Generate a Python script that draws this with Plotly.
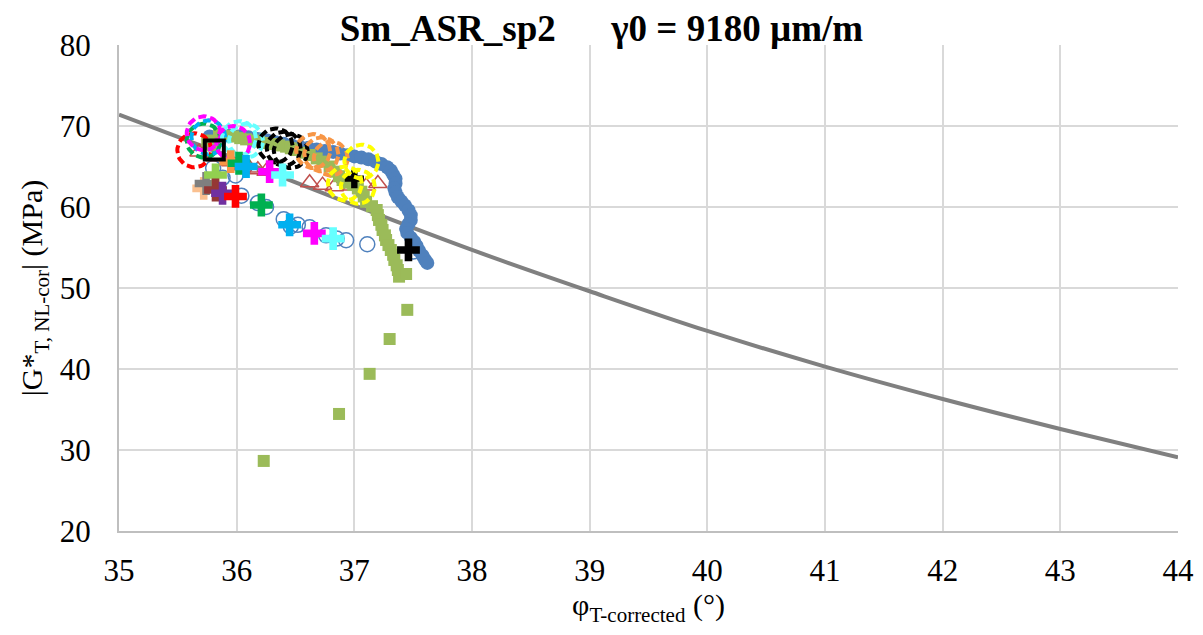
import numpy as np
import plotly.graph_objects as go

# ---------------- data ----------------
# reference (master) curve
line_x = [35, 36, 37, 38, 39, 40, 41, 42, 43, 44]
line_y = [71.4, 65.9, 60.2, 54.7, 49.6, 44.7, 40.3, 36.3, 32.6, 29.1]

# filled blue circles
blue_x = [35.77, 35.85, 35.94, 36.02, 36.10, 36.18, 36.26, 36.33, 36.40, 36.47, 36.54,
          36.61, 36.68, 36.75, 36.82, 36.88, 36.94, 37.00, 37.06, 37.12, 37.18, 37.23,
          37.28, 37.31, 37.33, 37.35, 37.35, 37.34, 37.35, 37.37, 37.40, 37.43, 37.46,
          37.48, 37.48, 37.46, 37.44, 37.45, 37.48, 37.51, 37.53, 37.55, 37.58, 37.60, 37.62]
blue_y = [68.7, 68.9, 68.8, 68.7, 68.6, 68.4, 68.2, 68.0, 67.8, 67.6, 67.4,
          67.3, 67.1, 66.9, 66.8, 66.6, 66.4, 66.25, 66.1, 65.9, 65.6, 65.3,
          64.9, 64.5, 64.0, 63.5, 62.9, 62.3, 61.8, 61.2, 60.7, 60.2, 59.6,
          59.0, 58.4, 57.9, 57.3, 56.8, 56.2, 55.7, 55.2, 54.6, 54.0, 53.5, 53.1]

# green squares
green_x = [35.75, 35.80, 35.85, 35.91, 35.97, 36.03, 36.08, 36.14, 36.19, 36.25, 36.31,
           36.36, 36.42, 36.46, 36.50, 36.56, 36.62, 36.68, 36.73, 36.79, 36.84, 36.87,
           36.90, 36.95, 36.99, 37.03, 37.06, 37.08, 37.10, 37.15, 37.19, 37.20, 37.21,
           37.23, 37.24, 37.26, 37.27, 37.29, 37.31, 37.33, 37.34, 37.36, 37.37, 37.38,
           37.44, 37.45, 37.30, 37.13, 36.87, 36.23]
green_y = [68.2, 67.6, 68.9, 68.8, 68.7, 68.5, 68.35, 68.2, 68.07, 67.9, 67.78,
           67.6, 67.45, 67.25, 67.04, 66.7, 66.42, 66.0, 65.60, 65.0, 64.36, 63.8,
           63.33, 63.0, 62.71, 62.3, 61.89, 61.3, 60.65, 60.1, 59.63, 59.0, 58.40,
           57.8, 57.16, 56.5, 55.93, 55.3, 54.69, 54.1, 53.46, 52.8, 52.22, 51.40,
           51.73, 47.3, 43.7, 39.4, 34.45, 28.65]

# blue open circles
ocirc_x = [35.80, 35.88, 35.99, 36.04, 36.18, 36.25, 36.40, 36.46, 36.52, 36.62, 36.76,
           36.85, 36.93, 37.11, 37.50]
ocirc_y = [64.8, 63.6, 63.9, 61.4, 60.5, 60.0, 58.5, 57.6, 57.8, 57.5, 56.5,
           56.1, 55.9, 55.4, 54.5]

# red open triangles
tri_x = [35.68, 35.82, 35.95, 36.05, 36.11, 36.18, 36.25, 36.62, 36.73, 36.83, 36.98, 37.10, 37.20]
tri_y = [66.8, 66.2, 65.6, 65.1, 64.8, 64.6, 64.4, 63.0, 62.7, 62.5, 62.6, 62.6, 62.9]

# black cross partly hidden under the yellow circles
bx_x = [37.00]
bx_y = [63.5]

# dashed circle series: colour, x list, y list
dash_colors = ["#FF0000", "#00B050", "#00B0F0", "#FF00FF", "#66FFFF", "#FF00FF",
               "#000000", "#F79646", "#FFFF00"]
dash_x = [[35.64], [35.72], [35.76], [35.72], [36.02, 36.08], [35.97],
          [36.33, 36.40, 36.46], [36.65, 36.72, 36.80], [37.06, 36.92, 37.03]]
dash_y = [[67.0], [68.2], [68.6], [69.1], [68.5, 68.2], [67.9],
          [67.6, 67.2, 66.9], [66.9, 66.5, 66.0], [65.6, 62.9, 62.5]]

# crosses
cross_colors = ["#FAC090", "#7F7F7F", "#92D050", "#953735", "#7030A0", "#FF0000",
                "#00B050", "#F79646", "#00B050", "#00B0F0", "#FF00FF", "#66FFFF",
                "#00B0F0", "#FF00FF", "#66FFFF", "#000000"]
cross_x = [35.72, 35.74, 35.82, 35.82, 35.88, 35.99, 36.21, 35.95, 36.02, 36.08, 36.28,
           36.39, 36.45, 36.66, 36.82, 37.46]
cross_y = [62.3, 62.9, 63.95, 62.1, 61.7, 61.3, 60.25, 65.6, 65.4, 65.0, 64.36,
           63.95, 57.8, 56.75, 56.1, 54.7]

# open black square
sq_x = [35.81]
sq_y = [67.05]

# ---------------- figure ----------------
# page body has an 8px margin; size the figure so the plot area lands where the reference has it
W, H = 1187, 619
ML, MR, MT, MB = 111, 17, 37, 96
XR = [35, 44]
YR = [20, 80]
px_x = (W - ML - MR) / (XR[1] - XR[0])
px_y = (H - MT - MB) / (YR[1] - YR[0])

fig = go.Figure()

fig.add_trace(go.Scatter(x=line_x, y=line_y, mode="lines",
                         line=dict(color="#808080", width=4, shape="spline"),
                         hoverinfo="skip", showlegend=False))

fig.add_trace(go.Scatter(x=ocirc_x, y=ocirc_y, mode="markers",
                         marker=dict(symbol="circle-open", size=15,
                                     color="#4F81BD", line=dict(width=1.5, color="#4F81BD")),
                         showlegend=False))

fig.add_trace(go.Scatter(x=tri_x, y=tri_y, mode="markers",
                         marker=dict(symbol="triangle-up-open", size=16,
                                     color="#C0504D", line=dict(width=1.5, color="#C0504D")),
                         showlegend=False))

fig.add_trace(go.Scatter(x=blue_x, y=blue_y, mode="markers",
                         marker=dict(symbol="circle", size=14, color="#4F81BD"),
                         showlegend=False))

fig.add_trace(go.Scatter(x=green_x, y=green_y, mode="markers",
                         marker=dict(symbol="square", size=12, color="#9BBB59"),
                         showlegend=False))

fig.add_trace(go.Scatter(x=bx_x, y=bx_y, mode="markers",
                         marker=dict(symbol="cross", size=16, color="#000000"),
                         showlegend=False))

# dashed circles drawn in data space with a pixel radius
R = 17
theta = np.linspace(0, 2 * np.pi, 49)
for col, xs, ys in zip(dash_colors, dash_x, dash_y):
    cx, cy = [], []
    for xc, yc in zip(xs, ys):
        cx += list(xc + R / px_x * np.cos(theta)) + [None]
        cy += list(yc + R / px_y * np.sin(theta)) + [None]
    fig.add_trace(go.Scatter(x=cx, y=cy, mode="lines",
                             line=dict(color=col, width=4, dash="8px,4px"),
                             hoverinfo="skip", showlegend=False))

for col, xc, yc in zip(cross_colors, cross_x, cross_y):
    fig.add_trace(go.Scatter(x=[xc], y=[yc], mode="markers",
                             marker=dict(symbol="cross", size=19, color=col),
                             showlegend=False))

fig.add_trace(go.Scatter(x=sq_x, y=sq_y, mode="markers",
                         marker=dict(symbol="square-open", size=19, color="#000000",
                                     line=dict(width=4, color="#000000")),
                         showlegend=False))

FONT = "Liberation Serif"
SP = "\u00a0" * 6
fig.update_layout(
    width=W, height=H,
    margin=dict(l=ML, r=MR, t=MT, b=MB, autoexpand=False),
    paper_bgcolor="white", plot_bgcolor="white",
    font=dict(family=FONT, color="black", size=31),
    title=dict(text="<b>Sm_ASR_sp2" + SP + "γ0 = 9180 µm/m</b>",
               x=0.500, xanchor="center", y=0.968, yanchor="middle",
               font=dict(family=FONT, size=37, color="black")),
    showlegend=False,
)
fig.update_xaxes(range=XR, dtick=1, tick0=35, showgrid=True, gridcolor="#D9D9D9", gridwidth=2,
                 zeroline=False, showline=True, linecolor="#BFBFBF", linewidth=2,
                 ticks="outside", ticklen=11, tickcolor="rgba(0,0,0,0)", automargin=False,
                 tickfont=dict(family=FONT, size=31),
                 title=dict(text="φ<sub>T-corrected</sub> (°)", font=dict(family=FONT, size=30),
                            standoff=6))
fig.update_yaxes(range=YR, dtick=10, tick0=20, showgrid=True, gridcolor="#D9D9D9", gridwidth=2,
                 zeroline=False, showline=True, linecolor="#BFBFBF", linewidth=2,
                 ticks="outside", ticklen=20, tickcolor="rgba(0,0,0,0)", automargin=False,
                 tickfont=dict(family=FONT, size=31),
                 title=dict(text="|G*<sub>T, NL-cor</sub>| (MPa)", font=dict(family=FONT, size=30),
                            standoff=8))

fig.write_html("out.html")
